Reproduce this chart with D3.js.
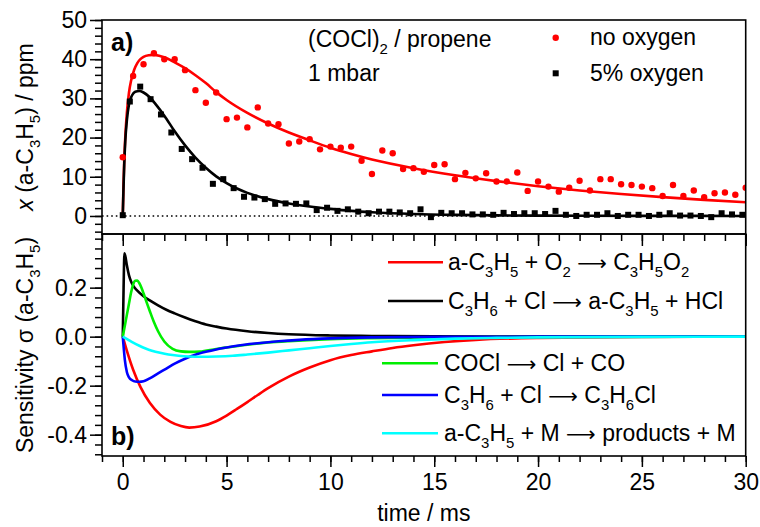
<!DOCTYPE html>
<html>
<head>
<meta charset="utf-8">
<script src="https://cdn.jsdelivr.net/npm/d3@7"></script>
<style>
  body { margin: 0; background: #fff; }
  svg { font-family: Arial, "Liberation Sans", sans-serif; }
</style>
</head>
<body>
<svg width="760" height="527"></svg>
<script>
// ---- measured points, panel a) ----
const redTime = [0, 0.5, 1, 1.5, 2, 2.5, 3, 3.5, 4, 4.5, 5, 5.5, 6, 6.5, 7, 7.5, 8, 8.5, 9, 9.5,
  10, 10.5, 11, 11.5, 12, 12.5, 13, 13.5, 14, 14.5, 15, 15.5, 16, 16.5, 17, 17.5, 18, 18.5, 19, 19.5,
  20, 20.5, 21, 21.5, 22, 22.5, 23, 23.5, 24, 24.5, 25, 25.5, 26, 26.5, 27, 27.5, 28, 28.5, 29, 29.5, 30];
const redVal = [15.0, 35.7, 38.7, 41.5, 40.0, 40.0, 37.2, 32.1, 28.9, 31.5, 24.7, 25.1, 22.6, 27.7, 23.6, 23.4, 18.5, 19.0, 19.6, 17.0,
  17.7, 17.4, 17.7, 14.1, 10.7, 16.7, 16.0, 12.0, 12.2, 11.3, 13.0, 13.2, 9.4, 11.0, 9.6, 10.9, 8.8, 8.8, 11.1, 6.4,
  8.8, 7.5, 6.2, 7.2, 9.0, 6.5, 9.4, 9.4, 8.1, 7.9, 7.5, 7.1, 5.1, 7.9, 5.1, 6.5, 4.8, 5.8, 6.0, 5.4, 7.2];

const blackTime = [0, 0.34, 0.84, 1.34, 1.84, 2.34, 2.84, 3.34, 3.84, 4.34, 4.84, 5.34, 5.84, 6.34, 6.84, 7.34, 7.84, 8.34, 8.84, 9.34,
  9.84, 10.34, 10.84, 11.34, 11.84, 12.34, 12.84, 13.34, 13.84, 14.34, 14.84, 15.34, 15.84, 16.34, 16.84, 17.34, 17.84, 18.34, 18.84, 19.34,
  19.84, 20.34, 20.84, 21.34, 21.84, 22.34, 22.84, 23.34, 23.84, 24.34, 24.84, 25.34, 25.84, 26.34, 26.84, 27.34, 27.84, 28.34, 28.84, 29.34, 29.84];
const blackVal = [0.2, 29.2, 33.0, 29.8, 25.9, 21.3, 17.1, 14.5, 12.3, 8.2, 9.4, 7.1, 4.9, 4.7, 4.3, 3.1, 3.2, 3.1, 3.2, 1.5,
  2.1, 1.3, 1.7, 1.1, 0.7, 1.1, 1.1, 0.9, 0.7, 1.7, -0.3, 0.8, 0.7, 0.7, 0.4, 0.4, 0.3, 0.8, 0.5, 0.7,
  0.7, 0.5, 1.3, 0.3, 0.0, 0.3, 0.3, 0.7, 0.0, 0.3, 0.3, 0.0, 0.3, 0.7, 0.1, 0.1, 0.0, -0.3, 0.7, 0.4, 0.3];

// ---- model curves, panel a) ----
const redFitTime = [0, 0.03, 0.07, 0.12, 0.2, 0.3, 0.4, 0.55, 0.7, 0.85, 1.0, 1.25, 1.5, 1.75, 2.0, 2.5, 3.0, 3.5, 4.0, 4.5,
  5.0, 6.0, 7.0, 8.0, 9.0, 10.0, 11.0, 12.0, 14.0, 16.0, 18.0, 20.0, 22.0, 24.0, 26.0, 28.0, 30.0];
const redFitVal = [0, 7, 14, 20, 26.5, 31.5, 34.5, 37.3, 39.0, 40.0, 40.6, 41.0, 41.1, 40.9, 40.5, 39.2, 37.7, 35.9, 33.9, 31.6,
  29.6, 26.3, 23.6, 21.3, 19.3, 17.4, 15.8, 14.4, 12.2, 10.4, 8.9, 7.6, 6.5, 5.6, 4.8, 4.1, 3.5];

const blackFitTime = [0, 0.03, 0.07, 0.12, 0.2, 0.3, 0.45, 0.6, 0.8, 1.0, 1.3, 1.6, 2.0, 2.5, 3.0, 3.5, 4.0, 4.5, 5.0, 5.5,
  6.0, 7.0, 8.0, 9.0, 10.0, 11.0, 12.0, 14.0, 16.0, 18.0, 20.0, 25.0, 30.0];
const blackFitVal = [0, 6, 13, 19, 24.5, 28.5, 30.8, 31.7, 31.9, 31.5, 30.3, 28.4, 25.6, 21.6, 18.0, 14.9, 12.3, 10.1, 8.4, 7.0,
  5.9, 4.3, 3.2, 2.4, 1.8, 1.3, 0.95, 0.5, 0.27, 0.15, 0.08, 0.03, 0.01];

// ---- sensitivities, panel b) ----
const sensRedTime = [0, 0.2, 0.5, 0.85, 1.3, 1.8, 2.3, 2.8, 3.2, 3.7, 4.5, 5.0, 5.5, 6.0, 6.5, 7.0, 8.0, 9.0, 10.0, 11.0,
  12.0, 13.0, 14.0, 15.5, 17.0, 20.0, 25.0, 30.0];
const sensRedVal = [0, -0.058, -0.135, -0.205, -0.27, -0.318, -0.348, -0.365, -0.371, -0.367, -0.345, -0.322, -0.295, -0.267, -0.238, -0.21, -0.163, -0.126, -0.096, -0.075,
  -0.06, -0.046, -0.035, -0.022, -0.013, -0.005, -0.001, 0];

const sensBlackTime = [0, 0.04, 0.08, 0.12, 0.2, 0.3, 0.4, 0.5, 0.7, 1.0, 1.3, 1.7, 2.1, 2.5, 3.0, 3.5, 4.0, 4.5, 5.0, 6.0,
  7.0, 8.0, 10, 12, 15, 20, 30];
const sensBlackVal = [0, 0.2, 0.34, 0.33, 0.29, 0.25, 0.225, 0.208, 0.188, 0.165, 0.148, 0.128, 0.11, 0.095, 0.078, 0.063, 0.05, 0.041, 0.033, 0.022,
  0.015, 0.01, 0.005, 0.003, 0.001, 0.0003, 0];

const sensGreenTime = [0, 0.1, 0.2, 0.3, 0.4, 0.5, 0.6, 0.7, 0.8, 0.9, 1.0, 1.15, 1.3, 1.5, 1.7, 2.0, 2.4, 2.8, 3.2, 3.7,
  4.5, 5.0, 6.0, 7.0, 8.0, 10, 12, 15, 20, 30];
const sensGreenVal = [0, 0.045, 0.09, 0.135, 0.18, 0.213, 0.228, 0.229, 0.218, 0.2, 0.177, 0.14, 0.105, 0.06, 0.022, -0.02, -0.05, -0.06, -0.062, -0.061,
  -0.05, -0.044, -0.033, -0.024, -0.018, -0.01, -0.006, -0.003, -0.001, 0];

const sensBlueTime = [0, 0.05, 0.1, 0.2, 0.3, 0.45, 0.6, 0.8, 1.0, 1.3, 1.7, 2.1, 2.5, 3.0, 3.5, 4.0, 4.5, 5.0, 5.5, 6.5,
  7.5, 8.5, 10, 12, 15, 20, 30];
const sensBlueVal = [0, -0.05, -0.095, -0.145, -0.166, -0.178, -0.183, -0.184, -0.182, -0.17, -0.15, -0.13, -0.11, -0.09, -0.074, -0.062, -0.052, -0.044, -0.037, -0.027,
  -0.019, -0.013, -0.007, -0.003, -0.001, 0, 0];

const sensCyanTime = [0, 0.25, 0.5, 0.8, 1.1, 1.4, 1.8, 2.2, 2.7, 3.2, 3.7, 4.5, 5.3, 6.0, 7.0, 8.0, 9.0, 10.0, 11.0, 12.0,
  14, 16, 18, 20, 25, 30];
const sensCyanVal = [0, -0.012, -0.024, -0.037, -0.048, -0.057, -0.066, -0.073, -0.078, -0.081, -0.082, -0.081, -0.078, -0.073, -0.065, -0.056, -0.047, -0.038, -0.03, -0.023,
  -0.014, -0.008, -0.005, -0.003, -0.001, 0];

const sensLabels = ["a-C_3H_5 + O_2 → C_3H_5O_2", "C_3H_6 + Cl → a-C_3H_5 + HCl",
  "COCl → Cl + CO", "C_3H_6 + Cl → C_3H_6Cl", "a-C_3H_5 + M → products + M"];
const sensColors = ["#ff0000", "#000000", "#00ee00", "#0000ff", "#00ffff"];

const xTicks = [0, 5, 10, 15, 20, 25, 30];
const yTopTicks = [0, 10, 20, 30, 40, 50];
const yBotTicks = [-0.4, -0.2, 0.0, 0.2];

//////////////////////////////
const svg = d3.select("svg");
const left = 102, right = 745.7;
const top1 = 20, bot1 = 234, top2 = 234, bot2 = 456;
const FS = 23;

const x = d3.scaleLinear().domain([-1, 30]).range([left, right]);
const y1 = d3.scaleLinear().domain([-4.6, 50]).range([bot1, top1]);
const y2 = d3.scaleLinear().domain([-0.487, 0.419]).range([bot2, top2]);

// writes text with _X subscripts and a long thin arrow
function rich(sel, str, fs) {
  const parts = str.split(/(_.|→)/).filter(s => s.length);
  let down = false;
  parts.forEach(p => {
    if (p[0] === "_" && p.length === 2) {
      sel.append("tspan").attr("font-size", fs * 0.65).attr("dy", down ? 0 : fs * 0.3).text(p[1]);
      down = true;
    } else if (p === "→") {
      sel.append("tspan").attr("dy", down ? -fs * 0.3 : 0)
        .attr("font-family", "DejaVu Sans").attr("font-size", fs * 0.9).text("⟶");
      down = false;
    } else {
      sel.append("tspan").attr("dy", down ? -fs * 0.3 : 0).text(p);
      down = false;
    }
  });
}

function styleAxis(g) {
  g.select(".domain").remove();
  g.selectAll("line").attr("stroke", "#000").attr("stroke-width", 1.5);
  g.selectAll("text").attr("font-size", FS).attr("fill", "#000")
    .attr("font-family", "Arial, 'Liberation Sans', sans-serif");
}

// left axes
svg.append("g").attr("transform", `translate(${left},0)`)
  .call(d3.axisLeft(y1).tickValues(d3.range(-4, 50.1, 2)).tickSize(7).tickFormat(""))
  .call(styleAxis);
svg.append("g").attr("transform", `translate(${left},0)`)
  .call(d3.axisLeft(y1).tickValues(yTopTicks).tickSize(12).tickPadding(3).tickFormat(d3.format("d")))
  .call(styleAxis);

svg.append("g").attr("transform", `translate(${left},0)`)
  .call(d3.axisLeft(y2).tickValues(d3.range(-0.48, 0.41, 0.04)).tickSize(7).tickFormat(""))
  .call(styleAxis);
svg.append("g").attr("transform", `translate(${left},0)`)
  .call(d3.axisLeft(y2).tickValues(yBotTicks).tickSize(12).tickPadding(3).tickFormat(d => d3.format(".1f")(d).replace("−", "-")))
  .call(styleAxis);

// bottom axis (outward) and the inward ticks at the top of panel b
svg.append("g").attr("transform", `translate(0,${bot2})`)
  .call(d3.axisBottom(x).tickValues(d3.range(-1, 30.1, 1)).tickSize(6).tickFormat(""))
  .call(styleAxis);
svg.append("g").attr("transform", `translate(0,${bot2})`)
  .call(d3.axisBottom(x).tickValues(xTicks).tickSize(11).tickPadding(7))
  .call(styleAxis);
svg.append("g").attr("transform", `translate(0,${top2})`)
  .call(d3.axisTop(x).tickValues(d3.range(-1, 30.1, 1)).tickSize(-7).tickFormat(""))
  .call(styleAxis);
svg.append("g").attr("transform", `translate(0,${top2})`)
  .call(d3.axisTop(x).tickValues(xTicks).tickSize(-12).tickFormat(""))
  .call(styleAxis);

// clip paths
svg.append("clipPath").attr("id", "clipA").append("rect")
  .attr("x", left).attr("y", top1).attr("width", right - left).attr("height", bot1 - top1);
svg.append("clipPath").attr("id", "clipB").append("rect")
  .attr("x", left).attr("y", top2).attr("width", right - left).attr("height", bot2 - top2);

const gA = svg.append("g").attr("clip-path", "url(#clipA)");
const gB = svg.append("g").attr("clip-path", "url(#clipB)");

// zero line, panel a
gA.append("line")
  .attr("x1", left).attr("x2", right).attr("y1", y1(0)).attr("y2", y1(0))
  .attr("stroke", "#000").attr("stroke-width", 1.6).attr("stroke-dasharray", "1.6,3");

const lineA = d3.line().x(d => x(d[0])).y(d => y1(d[1])).curve(d3.curveMonotoneX);
gA.append("path").datum(d3.zip(redFitTime, redFitVal))
  .attr("d", lineA).attr("fill", "none").attr("stroke", "#ff0000").attr("stroke-width", 2.6);
gA.append("path").datum(d3.zip(blackFitTime, blackFitVal))
  .attr("d", lineA).attr("fill", "none").attr("stroke", "#000").attr("stroke-width", 2.6);

gA.selectAll("circle.red").data(d3.zip(redTime, redVal))
  .enter().append("circle")
    .attr("cx", d => x(d[0])).attr("cy", d => y1(d[1]))
    .attr("r", 3.2).attr("fill", "#ff0000");
gA.selectAll("rect.blk").data(d3.zip(blackTime, blackVal))
  .enter().append("rect")
    .attr("x", d => x(d[0]) - 3).attr("y", d => y1(d[1]) - 3)
    .attr("width", 6).attr("height", 6).attr("fill", "#000");

// sensitivities
const lineB = d3.line().x(d => x(d[0])).y(d => y2(d[1])).curve(d3.curveMonotoneX);
const sensSeries = [
  d3.zip(sensRedTime, sensRedVal),
  d3.zip(sensBlackTime, sensBlackVal),
  d3.zip(sensGreenTime, sensGreenVal),
  d3.zip(sensBlueTime, sensBlueVal),
  d3.zip(sensCyanTime, sensCyanVal)
];
sensSeries.forEach(function(s, i) {
  gB.append("path").datum(s)
    .attr("d", lineB).attr("fill", "none")
    .attr("stroke", sensColors[i]).attr("stroke-width", 2.6);
});

// frames
svg.append("rect").attr("x", left).attr("y", top1).attr("width", right - left).attr("height", bot1 - top1)
  .attr("fill", "none").attr("stroke", "#000").attr("stroke-width", 1.6);
svg.append("rect").attr("x", left).attr("y", top2).attr("width", right - left).attr("height", bot2 - top2)
  .attr("fill", "none").attr("stroke", "#000").attr("stroke-width", 1.6);

// panel labels
svg.append("text").attr("x", 111).attr("y", 51).attr("font-size", 25).attr("font-weight", "bold").text("a)");
svg.append("text").attr("x", 111).attr("y", 445).attr("font-size", 25).attr("font-weight", "bold").text("b)");

// axis titles
svg.append("text").attr("x", (left + right) / 2).attr("y", 521)
  .attr("text-anchor", "middle").attr("font-size", 23).text("time / ms");

const t1 = svg.append("text").attr("transform", `translate(33,${(top1 + bot1) / 2}) rotate(-90)`)
  .attr("text-anchor", "middle").attr("font-size", 23);
t1.append("tspan").attr("font-style", "italic").text("x");
rich(t1, " (a-C_3H_5) / ppm", 23);

const t2 = svg.append("text").attr("transform", `translate(33,${(top2 + bot2) / 2}) rotate(-90)`)
  .attr("text-anchor", "middle").attr("font-size", 23);
rich(t2, "Sensitivity σ (a-C_3H_5)", 23);

// panel a annotations and legend
const n1 = svg.append("text").attr("x", 308).attr("y", 47).attr("font-size", 23);
rich(n1, "(COCl)_2 / propene", 23);
svg.append("text").attr("x", 308).attr("y", 81).attr("font-size", 23).text("1 mbar");

svg.append("circle").attr("cx", 555.7).attr("cy", 37.7).attr("r", 3.2).attr("fill", "#ff0000");
svg.append("text").attr("x", 590).attr("y", 45).attr("font-size", 23).text("no oxygen");
svg.append("rect").attr("x", 552.7).attr("y", 70.3).attr("width", 6).attr("height", 6).attr("fill", "#000");
svg.append("text").attr("x", 590).attr("y", 81).attr("font-size", 23).text("5% oxygen");

// panel b legend
const legRows = [
  {y: 262.3, x0: 388, x1: 443, tx: 448},
  {y: 301, x0: 388, x1: 443, tx: 448},
  {y: 363.3, x0: 382, x1: 438, tx: 444},
  {y: 395, x0: 382, x1: 438, tx: 444},
  {y: 433.3, x0: 382, x1: 438, tx: 444}
];
legRows.forEach(function(r, i) {
  svg.append("line").attr("x1", r.x0).attr("x2", r.x1).attr("y1", r.y).attr("y2", r.y)
    .attr("stroke", sensColors[i]).attr("stroke-width", 2.6);
  const t = svg.append("text").attr("x", r.tx).attr("y", r.y + 8).attr("font-size", 23);
  rich(t, sensLabels[i], 23);
});
</script>
</body>
</html>
